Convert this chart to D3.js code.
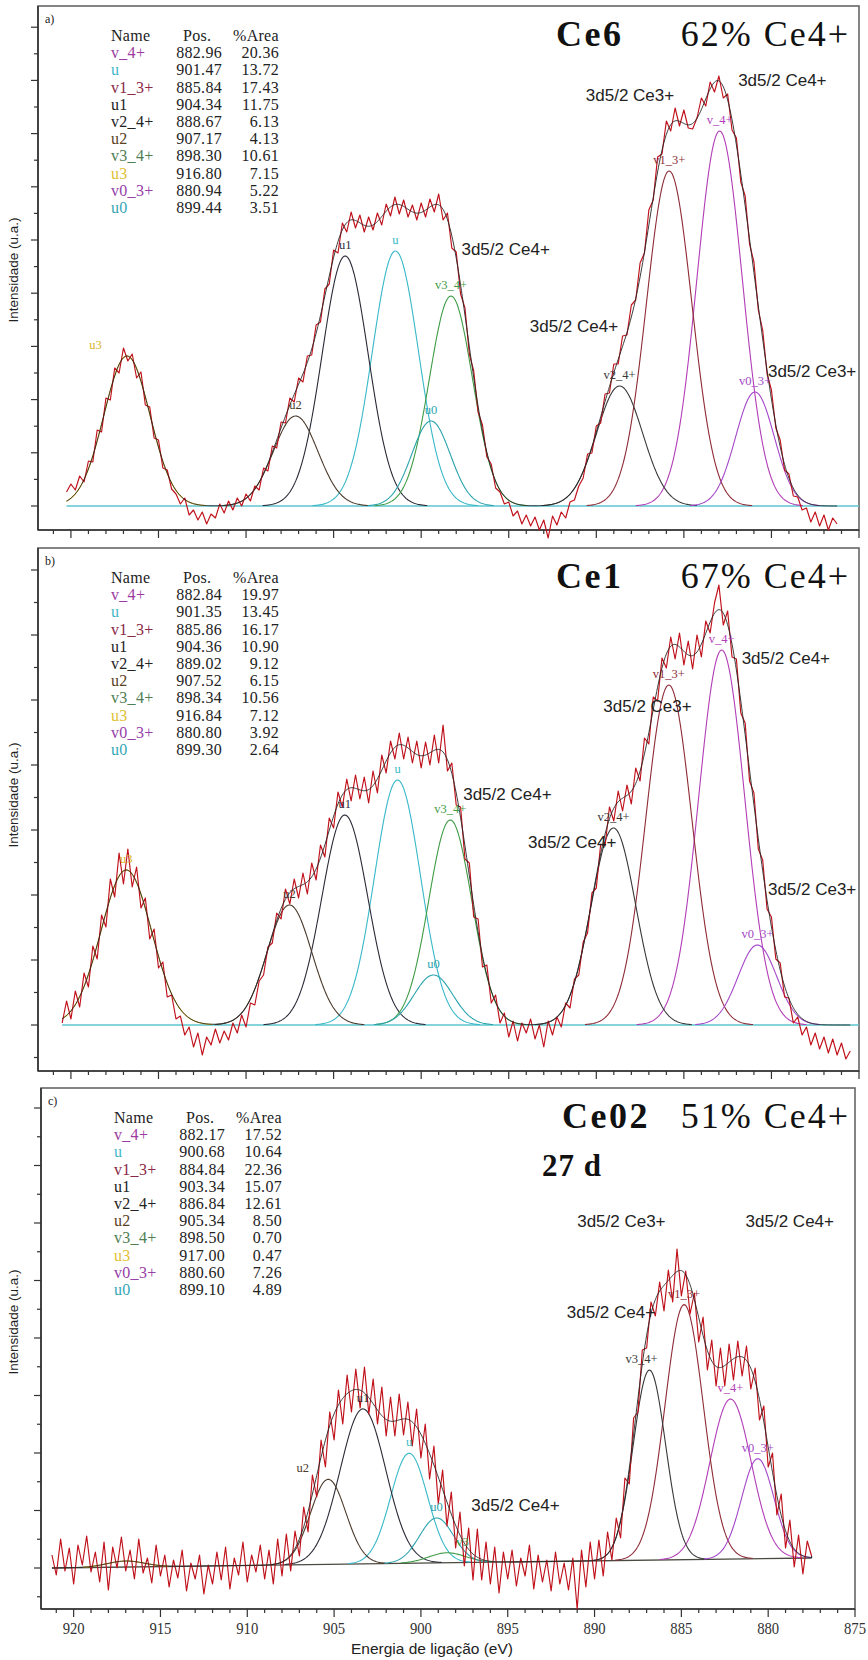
<!DOCTYPE html>
<html><head><meta charset="utf-8">
<script src="https://cdn.jsdelivr.net/npm/d3@7"></script>
<style>body{margin:0;background:#fff} svg{display:block}</style>
</head><body><svg id="chart" width="868" height="1660"></svg>
<script>
// ---------------- DATA ----------------
const compNames = ["v_4+","u","v1_3+","u1","v2_4+","u2","v3_4+","u3","v0_3+","u0"];
// table values (Pos. / %Area)
const posA  = [882.96,901.47,885.84,904.34,888.67,907.17,898.30,916.80,880.94,899.44];
const areaA = [20.36,13.72,17.43,11.75,6.13,4.13,10.61,7.15,5.22,3.51];
const posB  = [882.84,901.35,885.86,904.36,889.02,907.52,898.34,916.84,880.80,899.30];
const areaB = [19.97,13.45,16.17,10.90,9.12,6.15,10.56,7.12,3.92,2.64];
const posC  = [882.17,900.68,884.84,903.34,886.84,905.34,898.50,917.00,880.60,899.10];
const areaC = [17.52,10.64,22.36,15.07,12.61,8.50,0.70,0.47,7.26,4.89];
// peak heights (a.u. above background) and widths (FWHM, eV)
const heightA = [375,255,335,250,120,90,210,150,114,85];
const fwhmA   = [3.05,3.1,3.05,3.1,3.1,3.0,2.9,3.1,2.6,2.6];
const heightB = [375,245,340,210,197,120,205,155,80,50];
const fwhmB   = [3.1,3.1,3.1,3.1,3.0,3.0,2.9,3.4,2.6,2.6];
const heightC = [160,110,255,155,190,85,10,6,100,45];
const fwhmC   = [2.8,2.5,2.6,3.1,2.2,2.4,2.5,2.5,2.2,2.3];
// linear background at start / end of fitted range (panel c)
const bgC = [0, 10];

// measured spectra (a.u.), regular 0.25 eV grid starting at startE, decreasing
const startA = 920.25, startB = 920.5, startC = 921.25, stepE = 0.25;
const spectrumA = [14,22,16,30,24,45,44,76,74,108,106,138,133,158,
145,152,128,134,101,99,68,66,38,36,17,12,2,8,
-9,-4,-14,-6,-18,-8,-12,2,-7,5,-4,8,0,12,
5,20,16,38,35,60,58,84,83,108,104,128,124,150,
151,181,184,217,222,256,253,283,274,294,278,291,274,289,
276,293,281,302,290,309,292,306,289,301,286,303,289,307,
294,312,286,293,258,254,212,198,152,135,94,81,49,42,
18,14,2,4,-10,-5,-18,-9,-20,-11,-24,-14,-32,-10,
-19,-6,-12,4,6,20,28,52,53,80,83,112,113,142,
142,170,171,201,206,243,253,296,306,349,352,385,375,398,
380,396,378,377,388,408,400,424,414,430,408,412,376,368,
324,310,262,244,196,176,132,116,78,66,36,32,10,9,
-4,-2,-16,-6,-20,-9,-24,-12,-18];
const spectrumB = [2,24,6,34,18,52,38,79,66,110,98,146,128,172,
141,176,138,158,117,127,86,96,57,63,28,30,6,9,
-10,-2,-22,-8,-30,-12,-20,-4,-18,-6,-15,2,-8,10,
-2,22,20,44,50,78,82,112,106,136,121,146,127,152,
131,162,145,180,168,207,197,233,218,246,224,250,226,248,
222,254,232,270,252,284,266,292,266,288,262,284,257,283,
260,290,262,300,254,262,220,218,166,162,108,106,58,60,
22,30,2,12,-12,4,-16,2,-8,6,-14,0,-22,4,
-10,8,-2,22,17,46,50,83,92,132,137,181,179,218,
204,234,214,240,221,257,244,287,281,328,324,367,357,388,
366,392,360,384,356,390,368,404,392,422,440,400,414,368,
366,312,302,244,232,176,165,116,108,66,62,28,27,2,
8,-10,-2,-20,-8,-24,-12,-28,-14,-30,-18,-34,-26];
const spectrumC = [13,-7,29,-3,20,-16,23,3,32,-4,16,-14,26,-22,
21,0,31,-3,18,-11,29,-5,10,-15,23,-8,13,-19,
8,-10,18,-23,5,-11,13,-26,3,-16,16,-12,21,-21,
10,-7,26,-14,13,-4,23,-11,18,-16,29,-8,34,-3,
37,12,61,36,93,71,128,101,156,128,178,144,193,156,
199,160,201,154,189,144,181,132,171,132,174,133,166,122,
159,110,144,89,122,64,98,42,76,20,56,2,40,-12,
39,-12,26,-16,21,-25,16,-11,18,-18,10,-8,23,-21,
13,-14,8,-23,16,-16,5,-22,10,-41,18,-19,26,-11,
28,-8,36,8,50,30,90,84,150,156,218,220,266,252,
286,257,298,266,319,272,297,254,275,226,251,198,228,182,
220,182,224,188,227,192,222,179,200,148,162,101,115,53,
74,20,48,1,33,-6,27,12];

// peak-label text and energy per component (as printed near the peaks)
const peakLabelsA = ["v_4+","u","v1_3+","u1","v2_4+","u2","v3_4+","u3","v0_3+","u0"];
const peakLabelsB = ["v_4+","u","v1_3+","u1","v2_4+","u2","v3_4+","u3","v0_3+","u0"];
const peakLabelsC = ["v_4+","u","v1_3+","u1","v3_4+","u2","v3","","v0_3+","u0"];
const labelEA = [882.96,901.47,885.84,904.34,888.67,907.17,898.30,918.6,880.94,899.44];
const labelEB = posB;
const labelEC = [882.17,900.68,884.84,903.34,887.3,906.8,897.6,917.0,880.60,899.10];

// annotations [text, energy, intensity]
const annotA = [["3d5/2 Ce3+",890.6,410],["3d5/2 Ce4+",881.9,425],["3d5/2 Ce4+",897.7,256],["3d5/2 Ce4+",893.8,179],["3d5/2 Ce3+",880.2,134]];
const annotB = [["3d5/2 Ce3+",889.6,318],["3d5/2 Ce4+",881.7,366],["3d5/2 Ce4+",897.6,230],["3d5/2 Ce4+",893.9,182],["3d5/2 Ce3+",880.2,135]];
const annotC = [["3d5/2 Ce3+",891.0,346],["3d5/2 Ce4+",881.3,346],["3d5/2 Ce4+",891.6,255],["3d5/2 Ce4+",897.1,62]];

const titles = [["Ce6","62% Ce4+"],["Ce1","67% Ce4+"],["Ce02","51% Ce4+"]];
const subTitleC = "27 d";
const panelTags = ["a)","b)","c)"];
const xMajorTicks = [920,915,910,905,900,895,890,885,880,875];
// y tick spacing (a.u.): [major, minor]
const yTicksA = [53.2, 26.6], yTicksB = [65, 32.5], yTicksC = [57.5, 28.75];

// ---------------- STYLE / LAYOUT ----------------
const compColors = ["#b23db6","#38b8c8","#8e2b36","#2b2b38","#383838","#4a3a2a","#3f9c45","#d9b21f","#a447c9","#2aa3ad"];
const nameColors = ["#9c3aa0","#42b6c8","#8a2846","#222","#222","#5a4020","#4e7e52","#e0c030","#9640a8","#36a6b6"];
const redCol = "#c0101a";
const serif = "'Liberation Serif','Times New Roman',serif";
const sans = "'Liberation Sans',Arial,sans-serif";

const panels = [
  {left:38, right:859, top:6,    bottom:530,  zero:506,  pos:posA, area:areaA, h:heightA, w:fwhmA, start:startA, spec:spectrumA, labels:peakLabelsA, labelE:labelEA, annot:annotA, bg:[0,0], baseCol:"#5cc4cf", ylab:270, yt:yTicksA, t1x:556},
  {left:38, right:859, top:548,  bottom:1071, zero:1025, pos:posB, area:areaB, h:heightB, w:fwhmB, start:startB, spec:spectrumB, labels:peakLabelsB, labelE:labelEB, annot:annotB, bg:[0,0], baseCol:"#5cc4cf", ylab:795, yt:yTicksB, t1x:556},
  {left:41, right:855, top:1088, bottom:1609, zero:1568, pos:posC, area:areaC, h:heightC, w:fwhmC, start:startC, spec:spectrumC, labels:peakLabelsC, labelE:labelEC, annot:annotC, bg:bgC, baseCol:"#4a4a40", ylab:1322, yt:yTicksC, t1x:562}
];

const svg = d3.select("#chart");
svg.append("rect").attr("width",868).attr("height",1660).attr("fill","#fff");

function gauss(e,p,h,w){const s=w/2.3548;return h*Math.exp(-((e-p)*(e-p))/(2*s*s));}

panels.forEach((P,pi)=>{
  const g = svg.append("g");
  const xs = d3.scaleLinear().domain([921.88,875]).range([P.left,P.right]);
  const ys = d3.scaleLinear().domain([-(P.bottom-P.zero), P.zero-P.top]).range([P.bottom,P.top]);
  const pts = P.spec.map((v,i)=>[P.start - i*stepE, v]);
  const eHi = pts[0][0], eLo = pts[pts.length-1][0];
  const bgAt = e => P.bg[0] + (P.bg[1]-P.bg[0])*(eHi-e)/(eHi-eLo);
  const grid = d3.range(0, Math.round((eHi-eLo)/0.05)+1).map(i=>eHi - i*0.05);
  const line = d3.line().x(d=>xs(d[0])).y(d=>ys(d[1]));

  // frame
  g.append("rect").attr("x",P.left).attr("y",P.top).attr("width",P.right-P.left).attr("height",P.bottom-P.top)
    .attr("fill","#fff").attr("stroke","#666").attr("stroke-width",1.6);
  g.append("line").attr("x1",P.left).attr("x2",P.right).attr("y1",P.bottom).attr("y2",P.bottom).attr("stroke","#333").attr("stroke-width",1.6);
  g.append("line").attr("x1",P.left).attr("x2",P.left).attr("y1",P.top).attr("y2",P.bottom).attr("stroke","#333").attr("stroke-width",1.6);

  // x ticks
  d3.range(875,922,1).forEach(t=>{
    const maj = xMajorTicks.includes(t);
    g.append("line").attr("x1",xs(t)).attr("x2",xs(t)).attr("y1",P.bottom).attr("y2",P.bottom+(maj?8:4))
      .attr("stroke","#333").attr("stroke-width",1.2);
  });
  // y ticks
  const dMin = ys.domain()[0], dMax = ys.domain()[1];
  d3.range(Math.ceil(dMin/P.yt[1])*P.yt[1], dMax, P.yt[1]).forEach(t=>{
    const maj = Math.abs(t/P.yt[0]-Math.round(t/P.yt[0]))<0.01;
    g.append("line").attr("x1",P.left).attr("x2",P.left-(maj?7:4)).attr("y1",ys(t)).attr("y2",ys(t))
      .attr("stroke","#333").attr("stroke-width",1.2);
  });
  if(pi===2){
    xMajorTicks.forEach(t=>{
      g.append("text").attr("x",xs(t)).attr("y",P.bottom+25).attr("text-anchor","middle")
        .attr("font-family",serif).attr("font-size",16).attr("fill","#333")
        .attr("textLength",22).attr("lengthAdjust","spacingAndGlyphs").text(t);
    });
  }

  // baseline
  g.append("path").attr("d",line([[eHi,bgAt(eHi)],[eLo,bgAt(eLo)]].concat(pi<2?[[875,0]]:[])))
    .attr("fill","none").attr("stroke",P.baseCol).attr("stroke-width",1.3);

  // components
  P.pos.forEach((p,k)=>{
    const cd = grid.map(e=>[e, bgAt(e)+gauss(e,p,P.h[k],P.w[k])]).filter(d=>d[1]-bgAt(d[0])>0.4);
    g.append("path").attr("d",line(cd)).attr("fill","none").attr("stroke",compColors[k]).attr("stroke-width",1.1);
  });

  // measured spectrum
  g.append("path").attr("d",line(pts)).attr("fill","none").attr("stroke",redCol).attr("stroke-width",1.15).attr("stroke-linejoin","round");
  if(pi===2){ g.append("path").attr("d",line([[eLo,pts[pts.length-1][1]],[eLo,bgAt(eLo)]])).attr("stroke","#333").attr("stroke-width",1.2); }

  // fitted envelope
  const env = grid.map(e=>[e, bgAt(e)+d3.sum(P.pos,(p,k)=>gauss(e,p,P.h[k],P.w[k]))]);
  g.append("path").attr("d",line(env)).attr("fill","none").attr("stroke","#262626").attr("stroke-width",0.9);

  // peak labels (placed just above each component's peak)
  P.pos.forEach((p,k)=>{
    if(!P.labels[k]) return;
    const le = P.labelE[k];
    g.append("text").attr("x",xs(le)).attr("y",ys(P.h[k]+bgAt(p))-7).attr("text-anchor","middle")
      .attr("font-family",serif).attr("font-size",12.5).attr("fill",compColors[k]).text(P.labels[k]);
  });

  // annotations
  P.annot.forEach(a=>{
    g.append("text").attr("x",xs(a[1])).attr("y",ys(a[2])+5).attr("font-family",sans).attr("font-size",17)
      .attr("fill","#222").text(a[0]);
  });

  // title
  g.append("text").attr("x",P.t1x).attr("y",P.top+40).attr("font-family",serif).attr("font-size",36)
    .attr("font-weight","bold").attr("letter-spacing",2.5).attr("fill","#111").text(titles[pi][0]);
  g.append("text").attr("x",850).attr("y",P.top+40).attr("text-anchor","end").attr("font-family",serif).attr("font-size",36)
    .attr("letter-spacing",2).attr("fill","#111").text(titles[pi][1]);
  if(pi===2){
    g.append("text").attr("x",542).attr("y",P.top+88).attr("font-family",serif).attr("font-size",31).attr("font-weight","bold")
      .attr("letter-spacing",1).attr("fill","#111").text(subTitleC);
  }

  // tag + table
  g.append("text").attr("x",P.left+7).attr("y",P.top+17).attr("font-family",serif).attr("font-size",12).attr("fill","#222").text(panelTags[pi]);
  const tx = P.left+73, rowH = 17.2, y0 = P.top+35;
  const tfont = t => t.attr("font-family",serif).attr("font-size",16).attr("letter-spacing",0.3);
  [["Name",tx],["Pos.",tx+72],["%Area",tx+122]].forEach(hh=>tfont(g.append("text").attr("x",hh[1]).attr("y",y0)).attr("fill","#222").text(hh[0]));
  compNames.forEach((n,k)=>{
    const yy = y0 + (k+1)*rowH;
    tfont(g.append("text").attr("x",tx).attr("y",yy)).attr("fill",nameColors[k]).text(n);
    tfont(g.append("text").attr("x",tx+111).attr("y",yy).attr("text-anchor","end")).attr("fill","#222").text(P.pos[k].toFixed(2));
    tfont(g.append("text").attr("x",tx+168).attr("y",yy).attr("text-anchor","end")).attr("fill","#222").text(P.area[k].toFixed(2));
  });

  // y label
  svg.append("text").attr("transform",`translate(18,${P.ylab}) rotate(-90)`).attr("text-anchor","middle")
    .attr("font-family",sans).attr("font-size",13.5).attr("fill","#222").text("Intensidade (u.a.)");
});

svg.append("text").attr("x",432).attr("y",1654).attr("text-anchor","middle").attr("font-family",sans).attr("font-size",15.5).attr("fill","#222").text("Energia de ligação (eV)");
</script></body></html>
